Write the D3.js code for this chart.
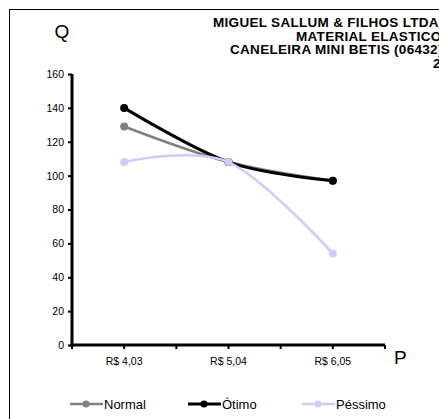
<!DOCTYPE html>
<html>
<head>
<meta charset="utf-8">
<script src="https://cdn.jsdelivr.net/npm/d3@7"></script>
<style>
  body { margin: 0; background: #fff; }
  svg { display: block; font-family: Arial, "Liberation Sans", sans-serif; }
</style>
</head>
<body>
<div class="chart"></div>
<script>
var prices = ["R$ 4,03", "R$ 5,04", "R$ 6,05"];
var normal = [129, 108, 97];
var otimo = [140, 108, 97];
var pessimo = [108, 108, 54];
var yTicks = [0, 20, 40, 60, 80, 100, 120, 140, 160];
var titleLines = ["MIGUEL SALLUM & FILHOS LTDA", "MATERIAL ELASTICO", "CANELEIRA MINI BETIS (06432)", "2"];

function init() {
    var w = 439;
    var h = 419;

    var series = [
        {name: "Normal", values: normal, color: "#808080", width: 2.5},
        {name: "Ótimo", values: otimo, color: "#000000", width: 3},
        {name: "Péssimo", values: pessimo, color: "#ccccff", width: 2.5}
    ];

    var svg = d3.select(".chart")
        .append("svg")
        .attr("width", w)
        .attr("height", h);

    // outer chart border (runs off the right and bottom)
    svg.append("rect")
        .attr("x", 9.5)
        .attr("y", 9.5)
        .attr("width", 500)
        .attr("height", 500)
        .attr("fill", "none")
        .attr("stroke", "#000")
        .attr("stroke-width", 1);

    var x = d3.scaleBand()
        .domain(prices)
        .range([72, 385])
        .padding(0);

    var y = d3.scaleLinear()
        .domain([0, 160])
        .range([345, 74]);

    // title lines
    var titleX = [213, 296, 230, 433];
    svg.selectAll("text.title")
        .data(titleLines)
        .enter()
        .append("text")
        .attr("class", "title")
        .attr("x", function(d, i) { return titleX[i]; })
        .attr("y", function(d, i) { return 27 + i * 13.5; })
        .attr("font-size", 13.5)
        .attr("letter-spacing", 0.3)
        .attr("font-weight", "bold")
        .text(function(d) { return d; });

    // y axis
    var yAxis = svg.append("g")
        .attr("transform", "translate(72,0)")
        .call(d3.axisLeft(y).tickValues(yTicks).tickSize(4).tickPadding(4));
    yAxis.select(".domain").remove();
    yAxis.selectAll(".tick line").attr("stroke", "#000").attr("stroke-width", 2);
    yAxis.selectAll(".tick text")
        .attr("font-size", 10.5)
        .attr("font-family", "Arial, 'Liberation Sans', sans-serif")
        .attr("fill", "#000");

    // x axis: ticks at category edges and centres
    var xTickPos = [];
    prices.forEach(function(p) {
        xTickPos.push(x(p));
        xTickPos.push(x(p) + x.bandwidth() / 2);
    });
    xTickPos.push(x.range()[1]);
    svg.selectAll("line.xtick")
        .data(xTickPos)
        .enter()
        .append("line")
        .attr("class", "xtick")
        .attr("x1", function(d) { return d; })
        .attr("x2", function(d) { return d; })
        .attr("y1", y(0))
        .attr("y2", y(0) + 4)
        .attr("stroke", "#000")
        .attr("stroke-width", 2);

    svg.selectAll("text.xlabel")
        .data(prices)
        .enter()
        .append("text")
        .attr("class", "xlabel")
        .attr("x", function(d) { return x(d) + x.bandwidth() / 2; })
        .attr("y", 365)
        .attr("text-anchor", "middle")
        .attr("font-size", 10.5)
        .text(function(d) { return d; });

    svg.append("line")
        .attr("x1", 72).attr("x2", 72)
        .attr("y1", y(160)).attr("y2", y(0) + 1.5)
        .attr("stroke", "#000").attr("stroke-width", 3);
    svg.append("line")
        .attr("x1", 70.5).attr("x2", 385)
        .attr("y1", y(0)).attr("y2", y(0))
        .attr("stroke", "#000").attr("stroke-width", 3);

    // axis letters
    svg.append("text").attr("x", 62).attr("y", 38)
        .attr("text-anchor", "middle").attr("font-size", 19).text("Q");
    svg.append("text").attr("x", 394).attr("y", 364)
        .attr("font-size", 19).text("P");

    var line = d3.line()
        .x(function(d, i) { return x(prices[i]) + x.bandwidth() / 2; })
        .y(function(d) { return y(d); })
        .curve(d3.curveCardinal.tension(0));

    var groups = svg.selectAll("g.series")
        .data(series)
        .enter()
        .append("g")
        .attr("class", "series");

    groups.append("path")
        .attr("fill", "none")
        .attr("stroke", function(d) { return d.color; })
        .attr("stroke-width", function(d) { return d.width; })
        .attr("d", function(d) { return line(d.values); });

    groups.selectAll("circle")
        .data(function(d) { return d.values.map(function(v, i) { return {v: v, i: i, color: d.color}; }); })
        .enter()
        .append("circle")
        .attr("cx", function(d) { return x(prices[d.i]) + x.bandwidth() / 2; })
        .attr("cy", function(d) { return y(d.v); })
        .attr("r", 4)
        .attr("fill", function(d) { return d.color; });

    // legend
    var legendX = [70, 188, 302];
    var legend = svg.selectAll("g.legend")
        .data(series)
        .enter()
        .append("g")
        .attr("class", "legend")
        .attr("transform", function(d, i) { return "translate(" + legendX[i] + ",404)"; });

    legend.append("line")
        .attr("x1", 0).attr("x2", 33)
        .attr("stroke", function(d) { return d.color; })
        .attr("stroke-width", function(d) { return d.width; });
    legend.append("circle")
        .attr("cx", 16).attr("r", 3.5)
        .attr("fill", function(d) { return d.color; });
    legend.append("text")
        .attr("x", 34)
        .attr("y", 5)
        .attr("font-size", 13)
        .text(function(d) { return d.name; });
}

init();
</script>
</body>
</html>
